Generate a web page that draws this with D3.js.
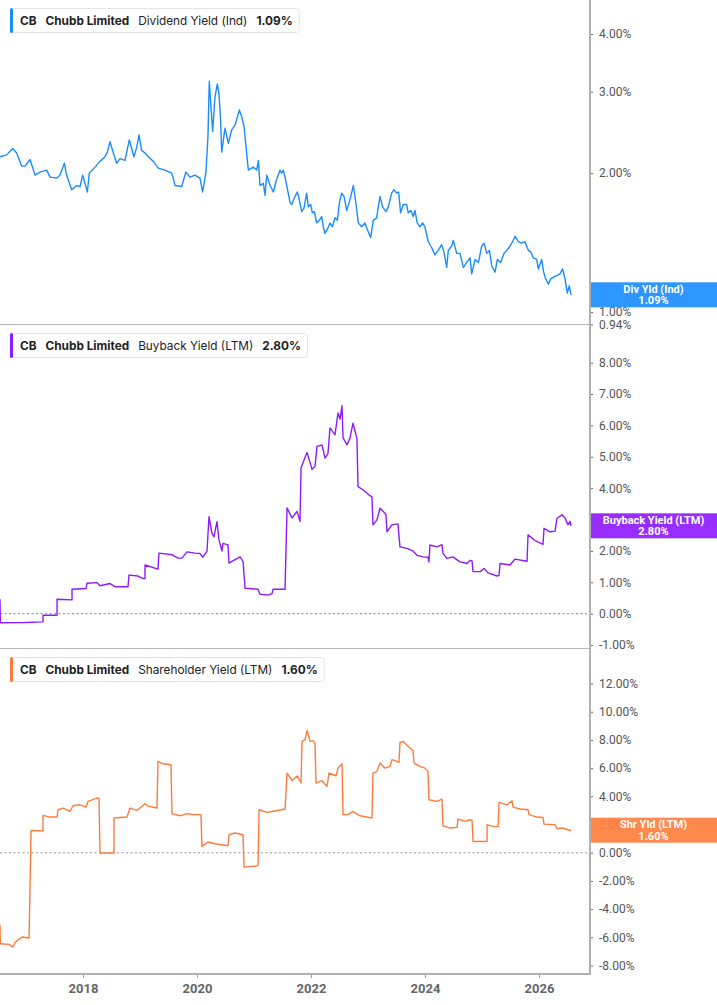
<!DOCTYPE html>
<html>
<head>
<meta charset="utf-8">
<script src="https://cdn.jsdelivr.net/npm/d3@7"></script>
<style>
  body { margin: 0; background: #fff; }
  svg { font-family: Inter, Roboto, "Noto Sans", sans-serif; }
</style>
</head>
<body>
<svg width="717" height="1005"></svg>
<script>
// dates are decimal years
const dividendYield = [
  [2016.544, 2.17], [2016.661, 2.19], [2016.766, 2.26], [2016.836, 2.21], [2016.924, 2.07],
  [2016.983, 2.07], [2017.070, 2.14], [2017.158, 1.98], [2017.246, 2.01], [2017.363, 2.03],
  [2017.421, 1.96], [2017.538, 1.95], [2017.597, 1.98], [2017.673, 2.10], [2017.713, 1.98],
  [2017.801, 1.84], [2017.889, 1.88], [2017.947, 1.87], [2017.994, 1.98], [2018.076, 1.82],
  [2018.111, 2.00], [2018.211, 2.06], [2018.298, 2.12], [2018.386, 2.17], [2018.427, 2.22],
  [2018.474, 2.34], [2018.532, 2.21], [2018.591, 2.10], [2018.649, 2.15], [2018.737, 2.13],
  [2018.813, 2.36], [2018.854, 2.26], [2018.895, 2.17], [2018.942, 2.27], [2018.983, 2.42],
  [2019.029, 2.24], [2019.088, 2.21], [2019.146, 2.17], [2019.234, 2.12], [2019.322, 2.05],
  [2019.439, 2.03], [2019.556, 2.00], [2019.585, 1.95], [2019.614, 1.88], [2019.731, 1.87],
  [2019.807, 2.01], [2019.877, 1.96], [2019.965, 1.98], [2020.053, 1.95], [2020.100, 1.82],
  [2020.158, 2.01], [2020.193, 2.40], [2020.216, 3.16], [2020.275, 2.46], [2020.316, 2.92],
  [2020.357, 3.12], [2020.386, 2.97], [2020.415, 2.60], [2020.433, 2.22], [2020.491, 2.50],
  [2020.550, 2.32], [2020.608, 2.48], [2020.667, 2.54], [2020.743, 2.74], [2020.784, 2.65],
  [2020.825, 2.52], [2020.883, 2.13], [2020.901, 2.03], [2020.988, 2.06], [2021.047, 2.03],
  [2021.076, 2.13], [2021.105, 1.88], [2021.164, 1.90], [2021.193, 1.79], [2021.222, 1.98],
  [2021.281, 1.88], [2021.339, 1.82], [2021.386, 1.92], [2021.456, 2.03], [2021.485, 2.00],
  [2021.514, 2.03], [2021.544, 1.96], [2021.573, 1.88], [2021.631, 1.73], [2021.661, 1.71],
  [2021.719, 1.78], [2021.760, 1.82], [2021.795, 1.75], [2021.836, 1.65], [2021.877, 1.68],
  [2021.924, 1.81], [2021.953, 1.69], [2021.994, 1.71], [2022.023, 1.64], [2022.058, 1.65],
  [2022.099, 1.56], [2022.146, 1.58], [2022.187, 1.61], [2022.216, 1.53], [2022.245, 1.48],
  [2022.286, 1.51], [2022.333, 1.56], [2022.374, 1.53], [2022.421, 1.60], [2022.462, 1.58],
  [2022.497, 1.72], [2022.538, 1.81], [2022.579, 1.78], [2022.626, 1.66], [2022.684, 1.75],
  [2022.743, 1.88], [2022.789, 1.72], [2022.830, 1.56], [2022.889, 1.53], [2022.947, 1.56],
  [2022.988, 1.51], [2023.047, 1.45], [2023.093, 1.58], [2023.152, 1.60], [2023.210, 1.78],
  [2023.257, 1.69], [2023.316, 1.65], [2023.357, 1.69], [2023.415, 1.81], [2023.456, 1.84],
  [2023.503, 1.81], [2023.538, 1.82], [2023.573, 1.64], [2023.620, 1.71], [2023.678, 1.71],
  [2023.707, 1.64], [2023.754, 1.66], [2023.795, 1.61], [2023.824, 1.66], [2023.865, 1.56],
  [2023.912, 1.53], [2023.959, 1.56], [2023.999, 1.53], [2024.058, 1.42], [2024.117, 1.38],
  [2024.175, 1.33], [2024.234, 1.36], [2024.292, 1.40], [2024.333, 1.35], [2024.380, 1.25],
  [2024.409, 1.36], [2024.468, 1.39], [2024.497, 1.43], [2024.556, 1.34], [2024.614, 1.34],
  [2024.672, 1.25], [2024.731, 1.28], [2024.789, 1.31], [2024.819, 1.21], [2024.877, 1.30],
  [2024.936, 1.28], [2024.994, 1.39], [2025.035, 1.41], [2025.082, 1.34], [2025.129, 1.36],
  [2025.170, 1.26], [2025.228, 1.22], [2025.269, 1.30], [2025.327, 1.28], [2025.386, 1.34],
  [2025.433, 1.36], [2025.491, 1.39], [2025.550, 1.43], [2025.579, 1.46], [2025.637, 1.42],
  [2025.696, 1.41], [2025.754, 1.42], [2025.813, 1.36], [2025.854, 1.35], [2025.900, 1.31],
  [2025.959, 1.30], [2025.988, 1.24], [2026.047, 1.30], [2026.076, 1.23], [2026.105, 1.19],
  [2026.164, 1.15], [2026.205, 1.18], [2026.251, 1.19], [2026.310, 1.20], [2026.368, 1.21],
  [2026.415, 1.24], [2026.456, 1.18], [2026.497, 1.10], [2026.532, 1.14], [2026.555, 1.10],
  [2026.562, 1.09]
];

const buybackYield = [
  [2016.544, 0.46], [2016.550, -0.29], [2016.983, -0.28], [2017.298, -0.26], [2017.298, -0.05],
  [2017.544, -0.05], [2017.544, 0.46], [2017.807, 0.44], [2017.807, 0.78], [2018.053, 0.80],
  [2018.070, 0.97], [2018.246, 0.99], [2018.298, 0.89], [2018.474, 0.96], [2018.562, 0.86],
  [2018.790, 0.86], [2018.807, 1.23], [2018.965, 1.20], [2019.053, 1.12], [2019.088, 1.12],
  [2019.088, 1.55], [2019.316, 1.42], [2019.333, 1.93], [2019.562, 1.88], [2019.667, 1.77],
  [2019.737, 1.77], [2019.825, 1.97], [2019.965, 1.93], [2020.053, 1.92], [2020.105, 1.80],
  [2020.176, 1.99], [2020.211, 3.09], [2020.263, 2.56], [2020.298, 2.45], [2020.351, 2.93],
  [2020.386, 2.35], [2020.439, 2.00], [2020.456, 2.24], [2020.544, 2.19], [2020.562, 1.61],
  [2020.667, 1.72], [2020.755, 1.81], [2020.807, 1.67], [2020.842, 0.81], [2021.070, 0.78],
  [2021.105, 0.62], [2021.246, 0.59], [2021.316, 0.64], [2021.333, 0.78], [2021.544, 0.78],
  [2021.579, 3.37], [2021.667, 3.05], [2021.755, 3.26], [2021.807, 2.94], [2021.825, 4.65],
  [2021.930, 5.14], [2022.018, 4.60], [2022.070, 4.70], [2022.105, 5.33], [2022.193, 5.38],
  [2022.246, 4.96], [2022.298, 5.10], [2022.333, 5.92], [2022.421, 5.70], [2022.474, 6.40],
  [2022.509, 6.20], [2022.544, 6.63], [2022.562, 5.60], [2022.632, 5.38], [2022.684, 5.60],
  [2022.737, 6.07], [2022.807, 5.57], [2022.825, 4.05], [2022.912, 3.95], [2023.035, 3.76],
  [2023.070, 3.72], [2023.088, 2.83], [2023.158, 2.99], [2023.211, 3.36], [2023.298, 3.20],
  [2023.316, 3.15], [2023.333, 2.61], [2023.421, 2.83], [2023.526, 2.86], [2023.562, 2.13],
  [2023.684, 2.08], [2023.790, 2.00], [2023.860, 1.86], [2023.965, 1.81], [2024.053, 1.80],
  [2024.070, 1.65], [2024.088, 2.19], [2024.211, 2.13], [2024.298, 2.20], [2024.316, 1.92],
  [2024.386, 1.76], [2024.491, 1.81], [2024.614, 1.65], [2024.737, 1.60], [2024.790, 1.70],
  [2024.825, 1.68], [2024.842, 1.34], [2024.965, 1.34], [2025.035, 1.44], [2025.105, 1.30],
  [2025.263, 1.20], [2025.298, 1.22], [2025.316, 1.60], [2025.491, 1.55], [2025.579, 1.74],
  [2025.790, 1.67], [2025.807, 2.51], [2025.930, 2.33], [2026.070, 2.21], [2026.088, 2.72],
  [2026.193, 2.61], [2026.281, 2.63], [2026.316, 3.04], [2026.404, 3.15], [2026.456, 3.05],
  [2026.509, 2.83], [2026.544, 2.94], [2026.562, 2.80]
];

const shareholderYield = [
  [2016.544, -5.10], [2016.550, -6.45], [2016.700, -6.50], [2016.772, -6.69], [2016.807, -6.36],
  [2016.930, -5.98], [2017.053, -6.05], [2017.088, 1.58], [2017.298, 1.55], [2017.298, 2.65],
  [2017.421, 2.53], [2017.544, 2.53], [2017.562, 3.05], [2017.649, 3.17], [2017.772, 2.93],
  [2017.825, 3.33], [2017.948, 3.40], [2018.053, 3.24], [2018.088, 3.64], [2018.246, 3.88],
  [2018.281, 3.85], [2018.298, -0.02], [2018.544, -0.02], [2018.544, 2.46], [2018.772, 2.53],
  [2018.825, 3.17], [2018.948, 3.00], [2019.000, 3.17], [2019.088, 3.48], [2019.140, 3.31],
  [2019.298, 3.17], [2019.316, 6.48], [2019.404, 6.31], [2019.544, 6.24], [2019.562, 2.77],
  [2019.702, 2.62], [2019.825, 2.77], [2019.930, 2.70], [2020.070, 2.70], [2020.088, 0.45],
  [2020.193, 0.76], [2020.316, 0.64], [2020.544, 0.50], [2020.562, 1.28], [2020.667, 1.40],
  [2020.807, 1.28], [2020.825, -1.02], [2021.070, -0.93], [2021.088, 3.05], [2021.228, 2.86],
  [2021.404, 3.00], [2021.544, 3.10], [2021.579, 5.65], [2021.667, 5.13], [2021.755, 5.44],
  [2021.825, 4.97], [2021.842, 7.90], [2021.895, 8.02], [2021.930, 8.68], [2021.983, 7.90],
  [2022.035, 7.95], [2022.070, 7.77], [2022.088, 4.94], [2022.193, 5.11], [2022.281, 4.71],
  [2022.316, 5.65], [2022.439, 5.46], [2022.474, 6.00], [2022.544, 6.31], [2022.562, 2.70],
  [2022.649, 2.70], [2022.737, 2.93], [2022.860, 2.62], [2023.070, 2.46], [2023.088, 5.65],
  [2023.158, 5.77], [2023.211, 6.36], [2023.298, 6.00], [2023.386, 6.12], [2023.421, 6.60],
  [2023.509, 6.48], [2023.544, 6.40], [2023.562, 7.82], [2023.614, 7.90], [2023.702, 7.55],
  [2023.790, 7.25], [2023.807, 6.36], [2023.912, 6.12], [2024.000, 6.00], [2024.053, 5.77],
  [2024.070, 3.76], [2024.211, 3.64], [2024.298, 3.80], [2024.316, 1.91], [2024.439, 1.75],
  [2024.562, 1.80], [2024.579, 2.39], [2024.702, 2.22], [2024.790, 2.34], [2024.825, 2.30],
  [2024.842, 0.80], [2025.088, 0.80], [2025.088, 1.99], [2025.193, 1.87], [2025.281, 1.85],
  [2025.298, 3.57], [2025.439, 3.40], [2025.526, 3.69], [2025.544, 3.24], [2025.667, 3.10],
  [2025.807, 3.05], [2025.825, 2.70], [2025.965, 2.53], [2026.070, 2.50], [2026.088, 2.03],
  [2026.281, 1.99], [2026.316, 1.70], [2026.421, 1.75], [2026.544, 1.58], [2026.562, 1.60]
];

const divTicks = [0.94, 1, 2, 3, 4];
const buybackTicks = [-1, 0, 1, 2, 4, 5, 6, 7, 8];   // 3.00% sits under the end label
const shareholderTicks = [-8, -6, -4, -2, 0, 2, 4, 6, 8, 10, 12];
const yearTicks = [2018, 2020, 2022, 2024, 2026];

// decimal year -> Date
function toDate(t) {
    const y = Math.floor(t);
    const start = new Date(y, 0, 1), end = new Date(y + 1, 0, 1);
    return new Date(+start + (t - y) * (end - start));
}

const svg = d3.select('svg');
const plotRight = 590;
const axisBottom = 974;

const x = d3.scaleTime()
    .domain([toDate(2016.544), toDate(2026.895)])
    .range([0, plotRight]);

const panels = [
    {
        id: 'div', data: dividendYield, ticks: divTicks, color: '#1a8cff', box: '#1e8fff',
        top: 0, bottom: 324.5,
        y: d3.scaleLog().domain([0.94, 4.74]).range([324.5, 0]),
        metric: 'Dividend Yield (Ind)', short: 'Div Yld (Ind)', zero: false
    },
    {
        id: 'buyback', data: buybackYield, ticks: buybackTicks, color: '#8c1cff', box: '#8f1eff',
        top: 325, bottom: 648.5,
        y: d3.scaleLinear().domain([-1.11, 9.2]).range([648.5, 325]),
        metric: 'Buyback Yield (LTM)', short: 'Buyback Yield (LTM)', zero: true
    },
    {
        id: 'shr', data: shareholderYield, ticks: shareholderTicks, color: '#ff7b3d', box: '#ff7f40',
        top: 649, bottom: axisBottom,
        y: d3.scaleLinear().domain([-8.6, 14.45]).range([axisBottom, 649]),
        metric: 'Shareholder Yield (LTM)', short: 'Shr Yld (LTM)', zero: true
    }
];

const fmt = d => d.toFixed(2) + '%';

panels.forEach(p => {
    const g = svg.append('g').attr('class', 'panel-' + p.id);

    g.append('clipPath').attr('id', 'clip-' + p.id)
        .append('rect')
        .attr('x', 0).attr('y', p.top)
        .attr('width', plotRight).attr('height', p.bottom - p.top);

    // dotted zero line
    if (p.zero) {
        g.append('line')
            .attr('x1', 0).attr('x2', plotRight)
            .attr('y1', p.y(0)).attr('y2', p.y(0))
            .attr('stroke', '#999')
            .attr('stroke-width', 1.2)
            .attr('stroke-dasharray', '2,2.5');
    }

    // series line
    const line = d3.line()
        .x(d => x(toDate(d[0])))
        .y(d => p.y(d[1]));

    g.append('path')
        .datum(p.data)
        .attr('clip-path', `url(#clip-${p.id})`)
        .attr('fill', 'none')
        .attr('stroke', p.color)
        .attr('stroke-width', 1.4)
        .attr('stroke-linejoin', 'round')
        .attr('d', line);

    // right axis ticks
    const ax = g.append('g')
        .attr('transform', `translate(${plotRight},0)`)
        .call(d3.axisRight(p.y).tickValues(p.ticks).tickSize(3).tickPadding(6).tickFormat(fmt));
    ax.select('.domain').remove();
    ax.selectAll('line').attr('stroke', '#666');
    ax.selectAll('text')
        .attr('fill', '#555')
        .style('font-size', '12px')
        .style('font-family', 'Roboto, "Liberation Sans", sans-serif');

    // end value label
    const last = p.data[p.data.length - 1][1];
    const cy = p.y(last);
    const lab = g.append('g');
    lab.append('rect')
        .attr('x', plotRight).attr('y', cy - 12.5)
        .attr('width', 717 - plotRight).attr('height', 25)
        .attr('fill', p.box)
        .attr('opacity', 0.93);
    lab.append('text')
        .attr('x', 653.5).attr('y', cy - 2)
        .attr('text-anchor', 'middle')
        .attr('fill', '#fff')
        .style('font-size', '11px').style('font-weight', 700)
        .style('font-family', 'Roboto, "Liberation Sans", sans-serif')
        .text(p.short);
    lab.append('text')
        .attr('x', 653.5).attr('y', cy + 9.5)
        .attr('text-anchor', 'middle')
        .attr('fill', '#fff')
        .style('font-size', '11px').style('font-weight', 700)
        .style('font-family', 'Roboto, "Liberation Sans", sans-serif')
        .text(fmt(last));

    // legend box
    const leg = g.append('g').attr('transform', `translate(10,${p.top + 8})`);
    const border = leg.append('rect')
        .attr('x', 0.5).attr('y', 0.5).attr('height', 24).attr('rx', 3)
        .attr('fill', '#fff').attr('stroke', '#e3e3e3');
    leg.append('rect')
        .attr('x', 0).attr('y', 0).attr('width', 3).attr('height', 25).attr('rx', 1.5)
        .attr('fill', p.color);
    const parts = [
        { t: 'CB', w: 700 },
        { t: 'Chubb Limited', w: 700 },
        { t: p.metric, w: 400 },
        { t: fmt(last), w: 700 }
    ];
    let cx = 10;
    parts.forEach(part => {
        const t = leg.append('text')
            .attr('x', cx).attr('y', 17)
            .attr('fill', '#222')
            .style('font-size', '11.8px')
            .style('font-weight', part.w)
            .text(part.t);
        cx += t.node().getComputedTextLength() + 9;
    });
    border.attr('width', cx - 3);
});

// panel separators
[324.5, 648.5].forEach(yy => {
    svg.append('line')
        .attr('x1', 0).attr('x2', plotRight)
        .attr('y1', yy).attr('y2', yy)
        .attr('stroke', '#b5b5b5').attr('stroke-width', 1);
});

// right vertical axis line
svg.append('line')
    .attr('x1', plotRight).attr('x2', plotRight)
    .attr('y1', 0).attr('y2', axisBottom)
    .attr('stroke', '#b0b0b0').attr('stroke-width', 2);

// bottom time axis
const xAxis = svg.append('g')
    .attr('transform', `translate(0,${axisBottom})`)
    .call(d3.axisBottom(x)
        .tickValues(yearTicks.map(yr => new Date(yr, 0, 1)))
        .tickSize(4).tickPadding(6)
        .tickFormat(d3.timeFormat('%Y')));
xAxis.select('.domain').remove();
xAxis.selectAll('line').attr('stroke', '#999');
xAxis.selectAll('text')
    .attr('fill', '#666')
    .style('font-size', '13px')
    .style('font-weight', 700)
    .style('font-family', 'Roboto, "Liberation Sans", sans-serif');

svg.append('line')
    .attr('x1', 0).attr('x2', plotRight + 1)
    .attr('y1', axisBottom).attr('y2', axisBottom)
    .attr('stroke', '#b0b0b0').attr('stroke-width', 2);
</script>
</body>
</html>
